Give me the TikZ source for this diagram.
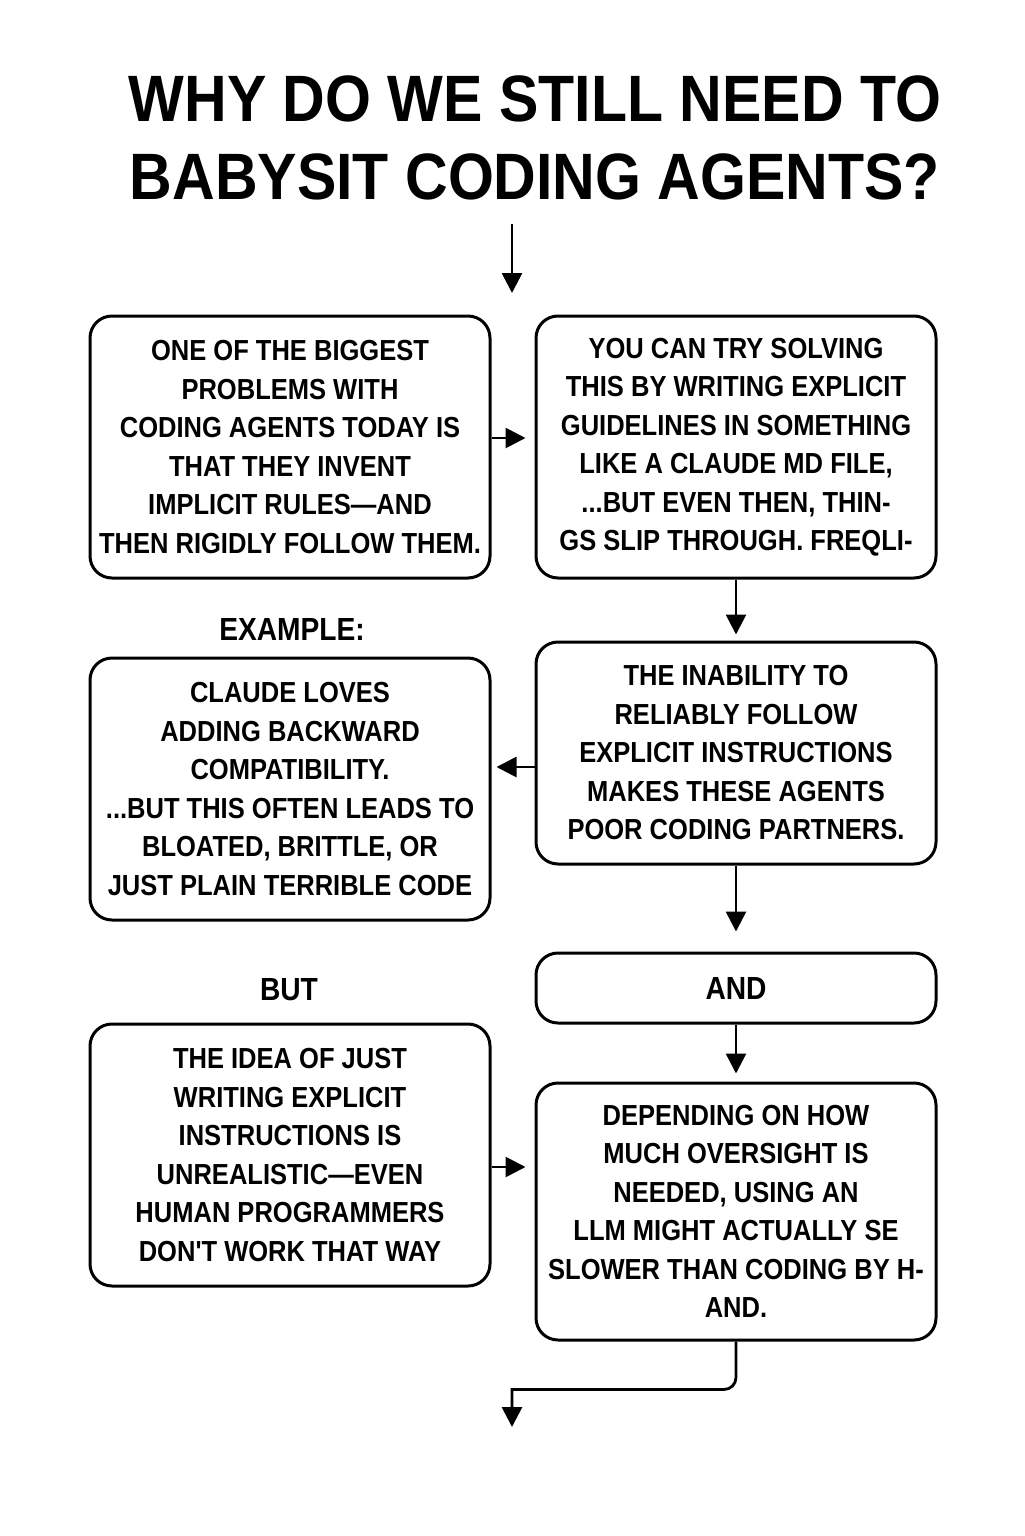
\documentclass[tikz,border=0pt]{standalone}
\usepackage{fontspec}
\usetikzlibrary{arrows.meta}
\newfontfamily\titlefont[FakeStretch=0.9]{Liberation Sans Bold}
\newfontfamily\boxfont[FakeStretch=0.88]{Liberation Sans Bold}

\begin{document}
\begin{tikzpicture}[x=0.5pt, y=-0.5pt,
    box/.style={draw, line width=1.5pt, rounded corners=11pt, minimum width=200pt, minimum height=131pt, align=center, font=\boxfont\fontsize{14.5}{19.25}\selectfont},
    lbl/.style={font=\boxfont\fontsize{16}{19}\selectfont},
    arr/.style={line width=1.4pt, -{Triangle[length=10pt, width=10pt]}}]
    \useasboundingbox (0,0) rectangle (1024,1536);
    \node[font=\titlefont\fontsize{32.8}{39}\selectfont, align=center, inner sep=0pt, anchor=north] (title) at (535,75) {WHY DO WE STILL NEED TO\\BABYSIT CODING AGENTS?};
    \coordinate (start) at (512,293);
    \draw[arr, shorten <=12pt] (title.south -| start) -- (start);

    \node[box] (biggest) at (290,447) {ONE OF THE BIGGEST\\PROBLEMS WITH\\CODING AGENTS TODAY IS\\THAT THEY INVENT\\IMPLICIT RULES—AND\\THEN RIGIDLY FOLLOW THEM.};
    \node[box] (solving) at (736,447) {YOU CAN TRY SOLVING\\THIS BY WRITING EXPLICIT\\GUIDELINES IN SOMETHING\\LIKE A CLAUDE MD FILE,\\...BUT EVEN THEN, THIN-\\GS SLIP THROUGH. FREQLI-};
    \node[lbl] (example) at (292,629) {EXAMPLE:};
    \node[box] (claude) at (290,789) {CLAUDE LOVES\\ADDING BACKWARD\\COMPATIBILITY.\\...BUT THIS OFTEN LEADS TO\\BLOATED, BRITTLE, OR\\JUST PLAIN TERRIBLE CODE};
    \node[box, minimum height=111pt] (inability) at (736,753) {THE INABILITY TO\\RELIABLY FOLLOW\\EXPLICIT INSTRUCTIONS\\MAKES THESE AGENTS\\POOR CODING PARTNERS.};
    \node[lbl] (but) at (289,990) {BUT};
    \node[box, lbl, minimum height=35pt] (and) at (736,988) {AND};
    \node[box] (idea) at (290,1155) {THE IDEA OF JUST\\WRITING EXPLICIT\\INSTRUCTIONS IS\\UNREALISTIC—EVEN\\HUMAN PROGRAMMERS\\DON'T WORK THAT WAY};
    \node[box, minimum height=128.5pt] (oversight) at (736,1211.5) {DEPENDING ON HOW\\MUCH OVERSIGHT IS\\NEEDED, USING AN\\LLM MIGHT ACTUALLY SE\\SLOWER THAN CODING BY H-\\AND.};

    \draw[arr, shorten >=4.5pt] ([yshift=4.5pt]biggest.east) -- ([yshift=4.5pt]solving.west);
    \draw[arr, shorten >=3pt] (solving) -- (inability);
    \draw[arr, shorten >=2.5pt] ([yshift=-7pt]inability.west) -- ([yshift=-7pt]inability.west -| claude.east);
    \draw[arr, shorten >=10pt] (inability) -- (and);
    \draw[arr, shorten >=4pt] (and) -- (oversight);
    \draw[arr, shorten >=4.5pt] ([yshift=-6pt]idea.east) -- ([yshift=-6pt]idea.east -| oversight.west);
    \coordinate (finish) at (512,1427);
    \draw[arr] (oversight.south) [rounded corners=6pt] -- ++(0,48) [sharp corners] -| (finish);
\end{tikzpicture}
\end{document}
